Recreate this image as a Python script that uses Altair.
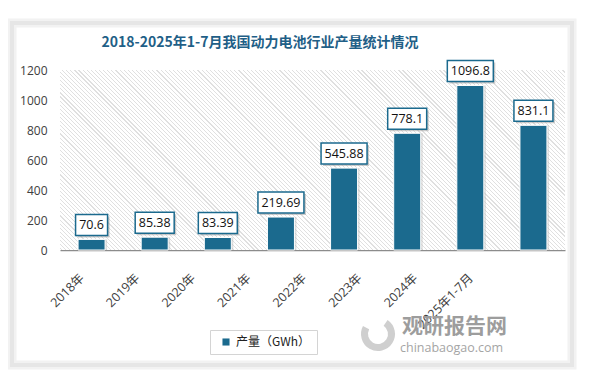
import altair as alt
import pandas as pd

title_text = ["2018-2025年1-7月我国动力电池行业产量统计情况"]
categories = ["2018年", "2019年", "2020年", "2021年", "2022年", "2023年", "2024年", "2025年1-7月"]
values = [70.6, 85.38, 83.39, 219.69, 545.88, 778.1, 1096.8, 831.1]
labels = ["70.6", "85.38", "83.39", "219.69", "545.88", "778.1", "1096.8", "831.1"]
y_ticks = [0, 200, 400, 600, 800, 1000, 1200]
series_name = "产量（GWh）"
watermark = ["观研报告网", "chinabaogao.com"]

W, H = 505, 180
BAR = "#1b6a8e"
TXT = "#404040"
FONT = "Open Sans, Noto Sans CJK SC"
CJK = "Noto Sans CJK SC"

df = pd.DataFrame({"cat": categories, "value": values, "label": labels, "series": series_name})
df["n"] = df["label"].str.len()

xs = alt.Scale(domain=categories, paddingInner=0, paddingOuter=0)
x_enc = alt.X("cat:N", sort=categories, scale=xs, axis=None)
yscale = alt.Scale(domain=[0, 1200], nice=False)
y_axis = alt.Axis(values=y_ticks, format="d", title=None, ticks=False, domain=False, grid=False,
                  labelPadding=13, labelFontSize=12, labelFont=FONT, labelColor=TXT)
y_enc = alt.Y("value:Q", scale=yscale, axis=y_axis)

one = pd.DataFrame({"k": [0]})

# card frame (soft shadow)
card_outer = alt.Chart(one).mark_rect(fill=None, stroke="#f2f2f2", strokeWidth=9).encode(
    x=alt.value(-48), x2=alt.value(512), y=alt.value(-47), y2=alt.value(295))
card = alt.Chart(one).mark_rect(fill=None, stroke="#e6e6e6", strokeWidth=4).encode(
    x=alt.value(-48), x2=alt.value(512), y=alt.value(-47), y2=alt.value(295))

# title
title = alt.Chart(pd.DataFrame({"t": title_text})).mark_text(
    fontSize=14, fontWeight="bold", font=CJK, color="#1f5f87", align="center",
    baseline="middle").encode(x=alt.value(200), y=alt.value(-27), text="t:N")

# hatch background via striped gradient
L = (W + H) / 2 ** 0.5
P, SW = 2.9, 0.8
LINE = "#e0e0e0"
stops = [{"offset": 0, "color": "#ffffff"}]
d = 0.8
while d + SW < L:
    a, b = d / L, (d + SW) / L
    stops += [{"offset": a, "color": "#ffffff"}, {"offset": a, "color": LINE},
              {"offset": b, "color": LINE}, {"offset": b, "color": "#ffffff"}]
    d += P
stops.append({"offset": 1, "color": "#ffffff"})
v = (1.0, -H / W)
s = (1 + H / W) / (1 + (H / W) ** 2)
grad = alt.LinearGradient(gradient="linear", stops=stops, x1=0, y1=1,
                          x2=s * v[0], y2=1 + s * v[1])
hatch = alt.Chart(one).mark_rect(color=grad).encode(
    x=alt.value(0), x2=alt.value(W), y=alt.value(0), y2=alt.value(H))

base = alt.Chart(df)

bars = base.mark_bar(width=27, stroke="white", strokeWidth=1).encode(
    x=alt.X("cat:N", sort=categories, scale=xs,
            axis=alt.Axis(labels=False, ticks=False, title=None, grid=False,
                          domainColor="#8c8c8c", domainWidth=1.5)),
    y=y_enc,
    color=alt.Color("series:N", scale=alt.Scale(domain=[series_name], range=[BAR]),
                    legend=alt.Legend(title=None, orient="none", legendX=150, legendY=260,
                                      symbolType="square", symbolSize=50, symbolStrokeWidth=0,
                                      labelFontSize=12, labelFont=CJK, labelColor="#222222",
                                      strokeColor="#d4d4d4", fillColor="white", padding=6,
                                      symbolOffset=4)),
)

bar_shadow = base.mark_bar(width=27, color="#b5b5b5", opacity=0.45, xOffset=2).encode(
    x=x_enc, y=y_enc)

boxes = []
for n in [4, 5, 6]:
    w = 7 * n + 4
    sub = base.transform_filter(f"datum.n == {n}")
    boxes.append(sub.mark_bar(width=w, color="#9a9a9a", opacity=0.5, xOffset=2,
                              yOffset=-2, y2Offset=-23).encode(
        x=x_enc, y=y_enc, y2="value:Q"))
    boxes.append(sub.mark_bar(width=w, fill="white", stroke=BAR, strokeWidth=1.5,
                              yOffset=-4, y2Offset=-25).encode(
        x=x_enc, y=y_enc, y2="value:Q"))

box_text = base.mark_text(dy=-14.5, fontSize=12.5, font=FONT, color="#111111",
                          baseline="middle").encode(x=x_enc, y=y_enc, text="label:N")

xlabels = base.mark_text(angle=315, align="right", baseline="middle", fontSize=12.5,
                         font=FONT, color=TXT).encode(
    x=alt.X("cat:N", sort=categories,
            scale=alt.Scale(type="point", domain=categories, range=[22, 411], padding=0),
            axis=None),
    y=alt.value(H + 26), text="cat:N")

wm = pd.DataFrame({"t": watermark, "i": [0, 1]})
wm1 = alt.Chart(wm).transform_filter("datum.i == 0").mark_text(
    fontSize=21, fontWeight="bold", font=CJK, color="#9d9d9d", align="left",
    baseline="middle").encode(x=alt.value(342), y=alt.value(257), text="t:N")
wm2 = alt.Chart(wm).transform_filter("datum.i == 1").mark_text(
    fontSize=12.5, font=FONT, color="#a5a5a5", align="left",
    baseline="middle").encode(x=alt.value(340), y=alt.value(278), text="t:N")
logo = alt.Chart(one).mark_arc(color="#cfcfcf", radius=17, radius2=10,
                               theta=0.6, theta2=5.2).encode(
    x=alt.value(318), y=alt.value(264))

chart = alt.layer(card_outer, card, title, hatch, bar_shadow, bars, *boxes, box_text, xlabels,
                  logo, wm1, wm2).resolve_scale(
    x="independent").properties(
    width=W, height=H,
    padding={"left": 52, "top": 62, "right": 21, "bottom": 120},
    autosize=alt.AutoSizeParams(type="none"),
    background="white",
).configure_view(stroke=None)

chart.save("out.html", embed_options={"renderer": "svg", "actions": False})
